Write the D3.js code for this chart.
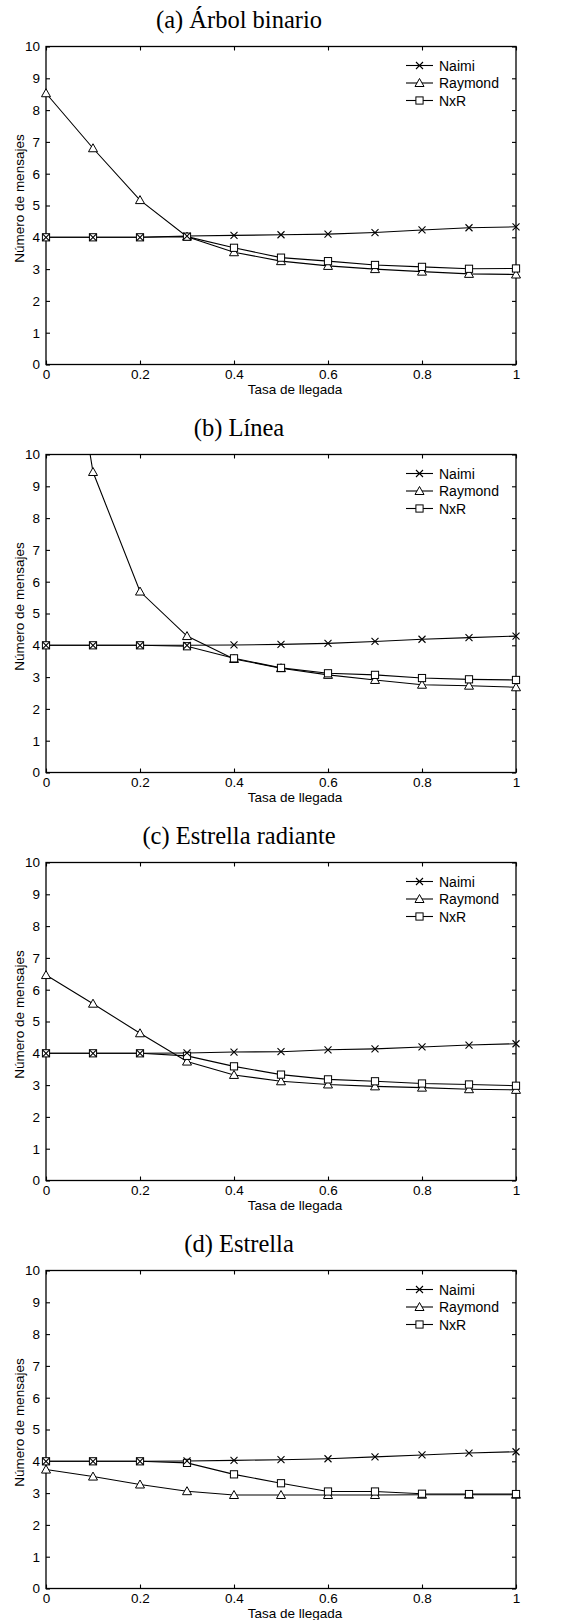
<!DOCTYPE html>
<html>
<head>
<meta charset="utf-8">
<script src="https://cdn.jsdelivr.net/npm/d3@7"></script>
<style>
  body { margin: 0; background: #fff; }
  svg text { fill: #000; }
</style>
</head>
<body>
<div id="chart"></div>
<script>
// Data
const rates = [0, 0.1, 0.2, 0.3, 0.4, 0.5, 0.6, 0.7, 0.8, 0.9, 1];
const xTicks = [0, 0.2, 0.4, 0.6, 0.8, 1];
const yTicks = [0, 1, 2, 3, 4, 5, 6, 7, 8, 9, 10];
const titles = ["(a) Árbol binario", "(b) Línea", "(c) Estrella radiante", "(d) Estrella"];
const seriesNames = ["Naimi", "Raymond", "NxR"];

const naimiA   = [4.0, 4.0, 4.0, 4.04, 4.06, 4.08, 4.1, 4.15, 4.23, 4.3, 4.33];
const raymondA = [8.53, 6.8, 5.17, 4.02, 3.53, 3.25, 3.1, 3.0, 2.92, 2.85, 2.83];
const nxrA     = [4.0, 4.0, 4.0, 4.02, 3.67, 3.36, 3.25, 3.13, 3.07, 3.01, 3.02];

const naimiB   = [4.0, 4.0, 4.0, 4.0, 4.01, 4.03, 4.06, 4.12, 4.19, 4.24, 4.29];
const raymondB = [18.5, 9.45, 5.69, 4.29, 3.57, 3.28, 3.07, 2.91, 2.76, 2.73, 2.68];
const nxrB     = [4.0, 4.0, 4.0, 3.97, 3.59, 3.29, 3.12, 3.07, 2.97, 2.93, 2.91];

const naimiC   = [4.0, 4.0, 4.0, 4.01, 4.04, 4.05, 4.11, 4.14, 4.2, 4.26, 4.3];
const raymondC = [6.46, 5.56, 4.63, 3.74, 3.32, 3.12, 3.02, 2.96, 2.92, 2.87, 2.85];
const nxrC     = [4.0, 4.0, 4.0, 3.92, 3.59, 3.33, 3.18, 3.12, 3.05, 3.02, 2.98];

const naimiD   = [4.0, 4.0, 4.0, 4.01, 4.03, 4.05, 4.08, 4.14, 4.2, 4.26, 4.3];
const raymondD = [3.74, 3.52, 3.27, 3.06, 2.94, 2.94, 2.94, 2.94, 2.95, 2.95, 2.95];
const nxrD     = [4.0, 4.0, 4.0, 3.95, 3.59, 3.31, 3.05, 3.05, 2.98, 2.97, 2.97];

const panels = [
  [naimiA, raymondA, nxrA],
  [naimiB, raymondB, nxrB],
  [naimiC, raymondC, nxrC],
  [naimiD, raymondD, nxrD]
];

const sans = "'Liberation Sans', Arial, Helvetica, sans-serif";
const serif = "'Liberation Serif', 'Times New Roman', serif";

const svg = d3.select("#chart").append("svg")
  .attr("width", 567)
  .attr("height", 1620);

const left = 46, right = 516, plotH = 318;
const x = d3.scaleLinear().domain([0, 1]).range([left, right]);

// marker shapes
function marker(g, kind, cx, cy) {
  if (kind === 0) { // cross
    const s = 3.5;
    g.append("path")
      .attr("d", `M${cx - s},${cy - s}L${cx + s},${cy + s}M${cx - s},${cy + s}L${cx + s},${cy - s}`)
      .attr("stroke", "#000").attr("stroke-width", 1.1).attr("fill", "none");
  } else if (kind === 1) { // triangle
    const h = 4.5;
    g.append("path")
      .attr("d", `M${cx},${cy - h}L${cx + 4.5},${cy + 3.5}L${cx - 4.5},${cy + 3.5}Z`)
      .attr("stroke", "#000").attr("stroke-width", 1).attr("fill", "#fff");
  } else { // square
    const s = 3.6;
    g.append("rect")
      .attr("x", cx - s).attr("y", cy - s)
      .attr("width", 2 * s).attr("height", 2 * s)
      .attr("stroke", "#000").attr("stroke-width", 1).attr("fill", "#fff");
  }
}

panels.forEach(function(series, p) {
  const top = 46.5 + p * 408;
  const bottom = top + plotH;
  const y = d3.scaleLinear().domain([0, 10]).range([bottom, top]);
  const g = svg.append("g");

  // title
  g.append("text")
    .attr("x", 239).attr("y", top - 19)
    .attr("text-anchor", "middle")
    .style("font-family", serif).style("font-size", "24.5px")
    .text(titles[p]);

  // axes with inward ticks
  const bx = g.append("g").attr("transform", `translate(0,${bottom})`)
    .call(d3.axisBottom(x).tickValues(xTicks).tickSize(-4).tickPadding(5).tickFormat(d => String(d)));
  const tx = g.append("g").attr("transform", `translate(0,${top})`)
    .call(d3.axisTop(x).tickValues(xTicks).tickSize(-4).tickFormat(""));
  const ly = g.append("g").attr("transform", `translate(${left},0)`)
    .call(d3.axisLeft(y).tickValues(yTicks).tickSize(-4).tickPadding(6).tickFormat(d => String(d)));
  const ry = g.append("g").attr("transform", `translate(${right},0)`)
    .call(d3.axisRight(y).tickValues(yTicks).tickSize(-4).tickFormat(""));

  [bx, tx, ly, ry].forEach(function(a) {
    a.select(".domain").remove();
    a.selectAll(".tick line").attr("stroke", "#000").attr("stroke-width", 1.1);
    a.selectAll("text").style("font-family", sans).style("font-size", "13.5px").attr("fill", "#000");
  });

  // frame
  g.append("rect")
    .attr("x", left).attr("y", top)
    .attr("width", right - left).attr("height", plotH)
    .attr("fill", "none").attr("stroke", "#000").attr("stroke-width", 1.3);

  // axis labels
  g.append("text")
    .attr("x", 295).attr("y", bottom + 29)
    .attr("text-anchor", "middle")
    .style("font-family", sans).style("font-size", "13.5px")
    .text("Tasa de llegada");

  g.append("text")
    .attr("transform", `translate(24,${top + 152}) rotate(-90)`)
    .attr("text-anchor", "middle")
    .style("font-family", sans).style("font-size", "13.5px")
    .text("Número de mensajes");

  // clip data to plot area
  const clipId = "clip" + p;
  g.append("clipPath").attr("id", clipId)
    .append("rect")
    .attr("x", left - 6).attr("y", top)
    .attr("width", right - left + 12).attr("height", plotH + 6);

  const data = g.append("g").attr("clip-path", `url(#${clipId})`);

  const line = d3.line()
    .x((d, i) => x(rates[i]))
    .y(d => y(d));

  // draw in order Raymond, NxR, Naimi so that crosses stay visible
  [1, 2, 0].forEach(function(k) {
    data.append("path")
      .datum(series[k])
      .attr("d", line)
      .attr("fill", "none")
      .attr("stroke", "#000")
      .attr("stroke-width", 1.1);
  });
  [1, 2, 0].forEach(function(k) {
    series[k].forEach(function(v, i) {
      if (v <= 10) marker(data, k, x(rates[i]), y(v));
    });
  });

  // legend
  seriesNames.forEach(function(name, k) {
    const ly0 = top + 19 + k * 17.5;
    g.append("line")
      .attr("x1", 406).attr("x2", 433)
      .attr("y1", ly0).attr("y2", ly0)
      .attr("stroke", "#000").attr("stroke-width", 1.1);
    marker(g, k, 419.5, ly0);
    g.append("text")
      .attr("x", 439).attr("y", ly0 + 5)
      .style("font-family", sans).style("font-size", "14px")
      .text(name);
  });
});
</script>
</body>
</html>
